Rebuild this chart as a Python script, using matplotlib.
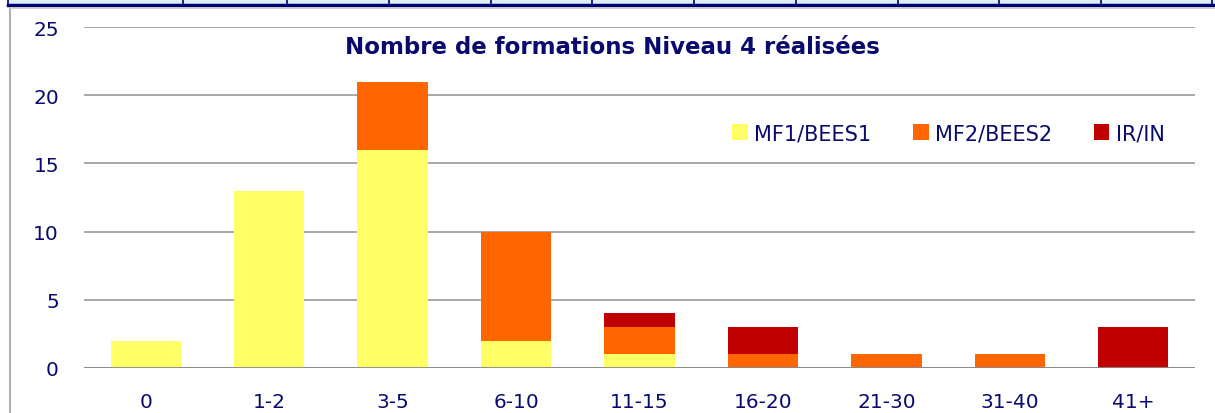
import matplotlib
matplotlib.use("Agg")
from matplotlib import pyplot as plt
from matplotlib.patches import Rectangle
from matplotlib.lines import Line2D
import numpy as np

categories = ["0", "1-2", "3-5", "6-10", "11-15", "16-20", "21-30", "31-40", "41+"]
mf1 = [2, 13, 16, 2, 1, 0, 0, 0, 0]
mf2 = [0, 0, 5, 8, 2, 1, 1, 1, 0]
irin = [0, 0, 0, 0, 1, 2, 0, 0, 3]
series_names = ["MF1/BEES1", "MF2/BEES2", "IR/IN"]
title = "Nombre de formations Niveau 4 réalisées"

navy = "#0a0a6e"
colors = ["#FFFF66", "#FF6600", "#C00000"]

W, H = 1215, 414
fig = plt.figure(figsize=(W / 100, H / 100), dpi=100)
fig.patch.set_facecolor("white")

# spreadsheet strip at the very top
fig.patches.append(Rectangle((8 / W, 1 - 7 / H), 1 - 8 / W, 7 / H, transform=fig.transFigure,
                             facecolor="#DDEEF8", edgecolor="none"))
fig.lines.append(Line2D([8 / W, 1], [1 - 5.5 / H, 1 - 5.5 / H], transform=fig.transFigure,
                        color="#000070", lw=2.5))
for xp in [8, 183, 287, 389, 491, 592, 694, 796, 898, 999, 1101, 1212]:
    fig.lines.append(Line2D([xp / W, xp / W], [1 - 5 / H, 1], transform=fig.transFigure,
                            color="#000070", lw=1.2))
# chart frame
fig.lines.append(Line2D([9.5 / W, 9.5 / W], [0, 1 - 8.5 / H], transform=fig.transFigure,
                        color="#a0a0a0", lw=1.2))
fig.lines.append(Line2D([9.5 / W, 1], [1 - 8.5 / H, 1 - 8.5 / H], transform=fig.transFigure,
                        color="#c8c8c8", lw=1.2))

ax = fig.add_axes([84 / W, 45 / H, 1111 / W, 341 / H])
x = np.arange(len(categories))
bw = 0.57
bottom = np.zeros(len(categories))
for vals, name, c in zip([mf1, mf2, irin], series_names, colors):
    ax.bar(x, vals, bw, bottom=bottom, color=c, label=name, zorder=3)
    bottom += np.array(vals)

ax.set_xlim(-0.5, len(categories) - 0.5)
ax.set_ylim(0, 25)
ax.set_yticks([0, 5, 10, 15, 20, 25])
ax.yaxis.grid(True, color="#999999", lw=1.2, zorder=0)
ax.set_axisbelow(True)
for s in ax.spines.values():
    s.set_visible(False)
ax.axhline(0, color="#888888", lw=2, zorder=4)
ax.set_xticks(x)
ax.set_xticklabels(categories)
ax.tick_params(axis="both", length=0, labelsize=14.5, labelcolor=navy)
ax.tick_params(axis="y", pad=18)
ax.tick_params(axis="x", pad=17)

fig.text(612 / W, 1 - 47 / H, title, ha="center", va="center", fontsize=16.5,
         fontweight="bold", color=navy)

leg = ax.legend(loc="upper left", bbox_to_anchor=(640 / 1111, 1 - 88 / 341), ncol=3,
                frameon=False, fontsize=15, handlelength=0.75, handleheight=0.75,
                handletextpad=0.3, columnspacing=2.0, borderaxespad=0)
for t in leg.get_texts():
    t.set_color(navy)

fig.savefig("out.png", dpi=100)
